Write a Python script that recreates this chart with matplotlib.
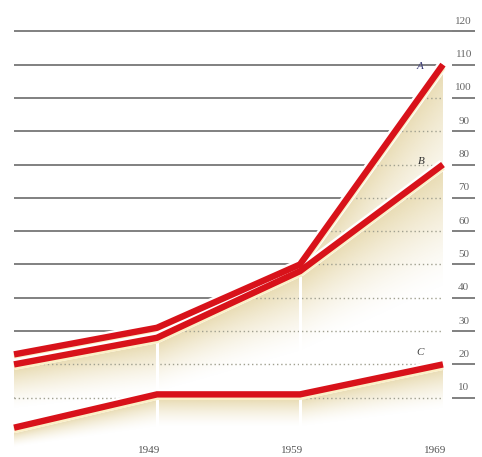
import numpy as np
import matplotlib
matplotlib.use('Agg')
import matplotlib.pyplot as plt
from matplotlib import transforms

# values per decade, three series
years = [1939, 1949, 1959, 1969]
series_a = [23, 31, 50, 110]
series_b = [20, 28, 48, 80]
series_c = [1, 11, 11, 20]
series_names = ['A', 'B', 'C']
grid_levels = list(range(10, 130, 10))
tick_years = [1949, 1959, 1969]

RED = '#d8121a'
GRID = '#808080'
DOTS = '#a0a090'
TAN = np.array([224, 206, 150]) / 255.0

fig = plt.figure(figsize=(4.82, 4.57), dpi=100)
ax = fig.add_axes([0, 0, 1, 1])
ax.set_xlim(1938.02, 1971.73)
ax.set_ylim(-7.8, 129.4)
ax.axis('off')

all_series = [series_a, series_b, series_c]
top = series_a
ymin = -7.8

# solid rules across the plot, plus the short stubs under the right labels
for lev in grid_levels:
    x_end = 1971.24 if lev == 120 else 1969.0
    ax.plot([1939.0, x_end], [lev, lev], color=GRID, lw=1.4, zorder=1,
            solid_capstyle='butt')
    ax.plot([1969.63, 1971.24], [lev, lev], color=GRID, lw=1.4, zorder=1,
            solid_capstyle='butt')
    ax.text(1970.45, lev + 3.0, str(lev), ha='center', va='center',
            fontsize=8, family='Liberation Serif', color='#666666', zorder=9)

# everything under the top curve is blanked out
under = ax.fill_between(years, top, ymin, color='white', lw=0, zorder=2)

# tan shading fading downward from each curve
xs = np.linspace(1939, 1969, 600)
ys = np.linspace(ymin, 115, 500)
X, Y = np.meshgrid(xs, ys)
alpha = np.zeros_like(X)
gap = 1.6
for s in all_series:
    L = np.interp(xs, years, s)[None, :]
    d = L - Y
    depth = 4 + 0.4 * L
    a = np.clip(1 - (d - gap) / depth, 0, 1) ** 1.5
    a = np.where(d > gap, a, 0)
    alpha = np.maximum(alpha, a)
rgba = np.zeros(X.shape + (4,))
rgba[..., :3] = TAN
rgba[..., 3] = alpha * 0.72
ax.imshow(rgba, extent=[1939, 1969, ymin, 115], origin='lower',
          aspect='auto', interpolation='bilinear', zorder=3)

# dotted rules inside the blanked area
for lev in grid_levels:
    ln, = ax.plot([1939.0, 1969.0], [lev, lev], color=DOTS, lw=1.0,
                  linestyle=(0, (1, 2)), zorder=4)
    ln.set_clip_path(under.get_paths()[0], ax.transData)

# thin white breaks in the shading at the decade marks
for yr in [1949, 1959]:
    yb = np.interp(yr, years, series_b)
    ax.plot([yr, yr], [-2.5, yb - 2], color='white', lw=2.2, zorder=5)

# curves: white cut-out, cream underline, red stroke
cream_tr = transforms.offset_copy(ax.transData, fig=fig, x=0, y=-2.5,
                                  units='dots')
for s in all_series:
    ax.plot(years, s, color='white', lw=8, zorder=6,
            solid_joinstyle='miter', solid_capstyle='butt')
    ax.plot(years, s, color='#fbefc6', lw=4.5, zorder=6, transform=cream_tr,
            solid_joinstyle='miter', solid_capstyle='butt')
    ax.plot(years, s, color=RED, lw=4.6, zorder=7,
            solid_joinstyle='miter', solid_capstyle='butt')

label_pos = [(1967.4, 109.5), (1967.5, 81.0), (1967.4, 23.5)]
label_col = ['#3c3c78', '#333333', '#444444']
for name, (lx, ly), c in zip(series_names, label_pos, label_col):
    ax.text(lx, ly, name, ha='center', va='center', fontsize=8,
            family='Liberation Serif', style='italic', color=c, zorder=9)

for yr in tick_years:
    ax.text(yr + 0.2, -5.7, str(yr), ha='right', va='center', fontsize=8,
            family='Liberation Serif', color='#555555', zorder=9)

fig.savefig('out.png', dpi=100)
